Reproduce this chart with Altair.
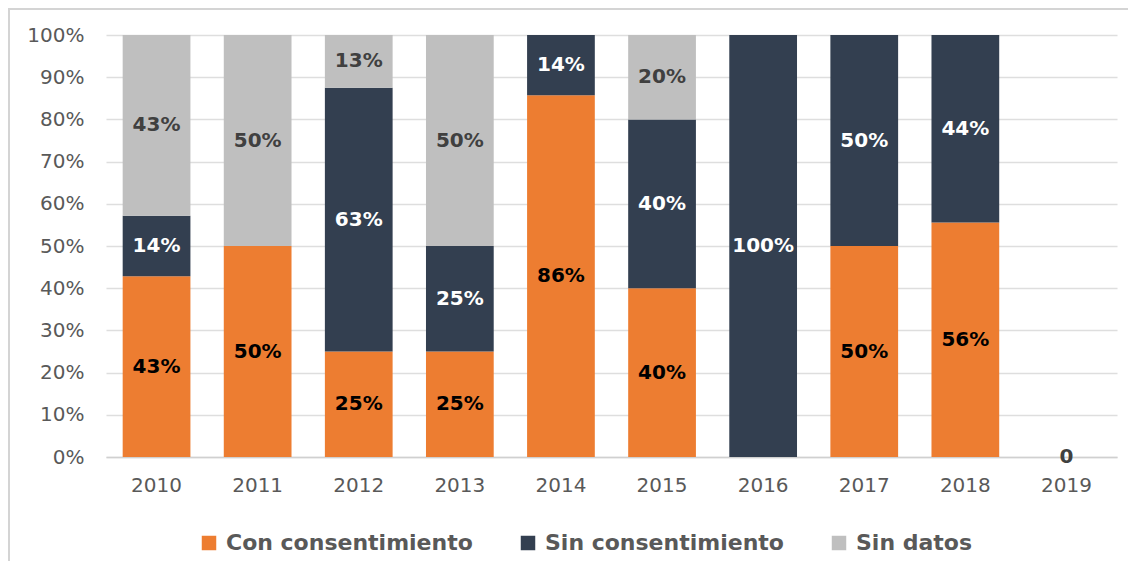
import altair as alt
import pandas as pd

years = ["2010", "2011", "2012", "2013", "2014", "2015", "2016", "2017", "2018", "2019"]
series = ["Con consentimiento", "Sin consentimiento", "Sin datos"]
con_consentimiento = [42.86, 50, 25, 25, 85.71, 40, 0, 50, 55.56, 0]
sin_consentimiento = [14.29, 0, 62.5, 25, 14.29, 40, 100, 50, 44.44, 0]
sin_datos = [42.86, 50, 12.5, 50, 0, 20, 0, 0, 0, 0]
zero_years = ["2019"]
zero_values = [0]
zero_labels = ["0"]
y_ticks = [0, 10, 20, 30, 40, 50, 60, 70, 80, 90, 100]

bar_colors = ["#ED7D31", "#333F50", "#BFBFBF"]
text_colors = ["#000000", "#FFFFFF", "#404040"]
FONT = "DejaVu Sans"

rows = []
for i, y in enumerate(years):
    for k, (s, vals) in enumerate(zip(series, [con_consentimiento, sin_consentimiento, sin_datos])):
        if vals[i] > 0:
            rows.append({"year": y, "series": s, "value": vals[i], "order": k})
df = pd.DataFrame(rows)
zdf = pd.DataFrame({"year": zero_years, "v": zero_values, "lab": zero_labels})

x_enc = alt.X(
    "year:N",
    sort=years,
    scale=alt.Scale(domain=years, paddingInner=0.33, paddingOuter=0.165),
    axis=alt.Axis(title=None, labelAngle=0, ticks=False, labelPadding=18,
                  labelFontSize=20, labelColor="#595959", labelFont=FONT,
                  domainColor="#D0D0D0", domainWidth=1.5),
)
y_scale = alt.Scale(domain=[0, 100], nice=False)

base = alt.Chart(df).transform_stack(
    stack="value", groupby=["year"], as_=["lo", "hi"],
    sort=[alt.SortField("order", order="ascending")],
)

bars = base.mark_bar().encode(
    x=x_enc,
    y=alt.Y("lo:Q", scale=y_scale,
            axis=alt.Axis(title=None, values=y_ticks, labelExpr="datum.value + '%'",
                          domain=False, ticks=False, grid=True, gridColor="#DEDEDE",
                          gridWidth=1.5, labelPadding=22, labelFontSize=20,
                          labelColor="#595959", labelFont=FONT)),
    y2="hi:Q",
    color=alt.Color("series:N", scale=alt.Scale(domain=series, range=bar_colors),
                    legend=alt.Legend(title=None, orient="none", direction="horizontal",
                                      legendX=92, legendY=497, padding=0,
                                      symbolType="square", symbolSize=210,
                                      symbolStrokeWidth=0, symbolOpacity=1,
                                      labelFontSize=22, labelFontWeight="bold",
                                      labelColor="#595959", labelFont=FONT,
                                      labelLimit=500, labelOffset=6, columnPadding=44)),
)

labels = base.transform_calculate(
    mid="(datum.lo + datum.hi) / 2",
    lab="format(datum.value, '.0f') + '%'",
).mark_text(font=FONT, fontSize=20, fontWeight="bold", baseline="middle").encode(
    x=alt.X("year:N", sort=years),
    y=alt.Y("mid:Q", scale=y_scale),
    text="lab:N",
    color=alt.Color("series:N", scale=alt.Scale(domain=series, range=text_colors), legend=None),
)

zero_text = alt.Chart(zdf).mark_text(
    font=FONT, fontSize=20, fontWeight="bold", baseline="middle", color="#404040"
).encode(
    x=alt.X("year:N", sort=years),
    y=alt.Y("v:Q", scale=y_scale),
    text="lab:N",
)

border = alt.Chart(pd.DataFrame({"a": [0]})).mark_rect(
    fill="transparent", stroke="#D4D4D4", strokeWidth=2
).encode(
    x=alt.value(-97), x2=alt.value(1040), y=alt.value(-26), y2=alt.value(600)
)

chart = alt.layer(bars, labels, zero_text, border).resolve_scale(
    color="independent"
).properties(
    width=1011, height=422,
    autosize=alt.AutoSizeParams(type="none"),
    padding={"left": 98, "top": 27, "right": 11, "bottom": 104},
).configure_view(strokeWidth=0)

chart.save("out.html", embed_options={"renderer": "svg", "actions": False})
